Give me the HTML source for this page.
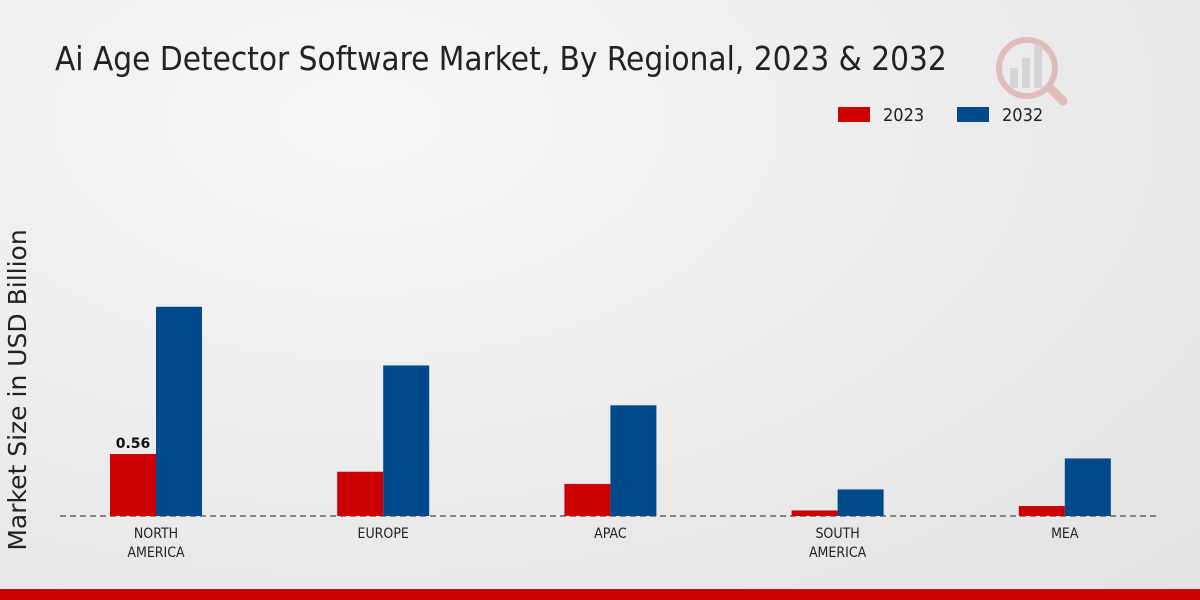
<!DOCTYPE html>
<html><head><meta charset="utf-8"><style>
body{margin:0;width:1200px;height:600px;overflow:hidden;font-family:"Liberation Sans","DejaVu Sans",sans-serif;}
#bg{position:absolute;left:0;top:0;width:1200px;height:600px;background:radial-gradient(ellipse at 30% 20%,#f7f7f7 0%,#ececec 50%,#e2e2e2 100%);}
.cond{font-family:"DejaVu Sans Condensed","DejaVu Sans",sans-serif;}
</style></head><body>
<div id="bg"></div>
<svg id="c" width="1200" height="600" style="position:absolute;left:0;top:0">
<text x="55" y="70" font-size="33" fill="#222" font-family="DejaVu Sans Condensed,DejaVu Sans,sans-serif" style="font-stretch:condensed">Ai Age Detector Software Market, By Regional, 2023 &amp; 2032</text>
<g opacity="0.35">
<circle cx="1027" cy="68" r="28" fill="none" stroke="#c66" stroke-width="6"/>
<rect x="1010" y="68" width="8" height="20" fill="#aaa"/><rect x="1022" y="58" width="8" height="30" fill="#aaa"/><rect x="1034" y="45" width="8" height="43" fill="#aaa"/>
<line x1="1050" y1="88" x2="1063" y2="101" stroke="#c66" stroke-width="9" stroke-linecap="round"/>
</g>
<g>
<rect x="838" y="107" width="32" height="15" fill="#cc0000"/>
<text class="cond" x="883" y="121" font-size="18" fill="#222">2023</text>
<rect x="957" y="107" width="32" height="15" fill="#004a8c"/>
<text class="cond" x="1002" y="121" font-size="18" fill="#222">2032</text>
</g>
<text transform="translate(26,390) rotate(-90)" text-anchor="middle" font-size="25" fill="#222" font-family="DejaVu Sans,sans-serif">Market Size in USD Billion</text>
<line x1="60" y1="516" x2="1160" y2="516" stroke="#222" stroke-dasharray="6,4"/>
<g id="bars"></g>
<rect x="0" y="589" width="1200" height="11" fill="#cc0000"/>
</svg>
<script>
const categories=[["NORTH","AMERICA"],["EUROPE"],["APAC"],["SOUTH","AMERICA"],["MEA"]];
const values2023=[0.56,0.40,0.29,0.05,0.09];
const values2032=[1.89,1.36,1.00,0.24,0.52];
const labels2023=["0.56","","","",""];
const ns="http://www.w3.org/2000/svg";
const g=document.getElementById("bars");
const base=516,scale=110.7;
const x=i=>156+i*227.2;
const y=v=>base-v*scale;
function mk(t,a){const e=document.createElementNS(ns,t);for(const k in a)e.setAttribute(k,a[k]);g.appendChild(e);return e;}
categories.forEach((c,i)=>{
  const r=mk("rect",{x:x(i)-46,y:y(values2023[i]),width:46,height:base-y(values2023[i]),fill:"#cc0000"});
  
  
  const b=mk("rect",{x:x(i),y:y(values2032[i]),width:46,height:base-y(values2032[i]),fill:"#004a8c"});
  
  
  if(labels2023[i]){const t=mk("text",{x:x(i)-23,y:y(values2023[i])-6,"text-anchor":"middle","font-size":"14","font-weight":"bold",fill:"#111","font-family":"DejaVu Sans,sans-serif"});t.textContent=labels2023[i];
    
    }
  c.forEach((l,j)=>{const t=mk("text",{x:x(i),y:538+j*19,"text-anchor":"middle","font-size":"14",fill:"#222","class":"cond"});t.textContent=l;
    
    });
});
</script>
</body></html>
